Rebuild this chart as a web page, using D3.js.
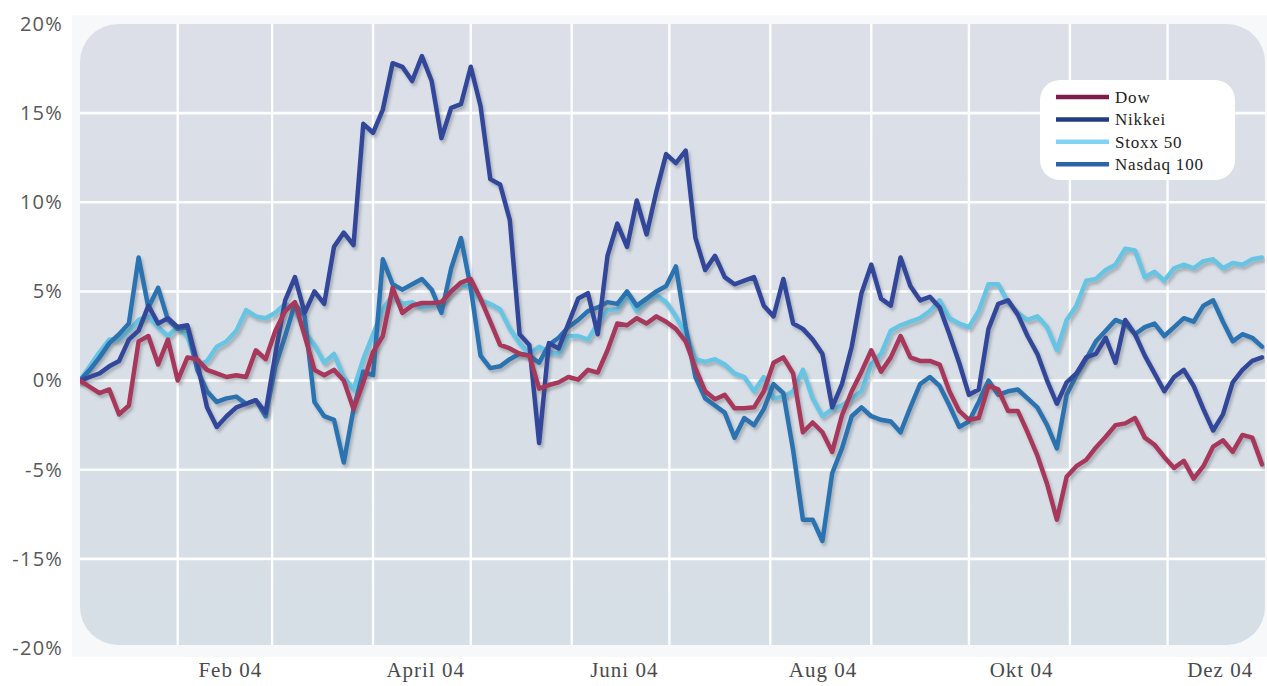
<!DOCTYPE html>
<html>
<head>
<meta charset="utf-8">
<script src="https://cdn.jsdelivr.net/npm/d3@7"></script>
<style>
  html, body { margin: 0; padding: 0; background: #ffffff; }
  svg { display: block; }
</style>
</head>
<body>
<svg id="chart" width="1267" height="686"></svg>
<script>
// Index performance 2004, percent change since the first trading day.
// One sample every three calendar days, starting 2 Jan 2004.
const startDate = "2004-01-02";
const stepDays = 3;

const dow = [0,-0.35,-0.7,-0.5,-1.9,-1.4,2.2,2.5,0.9,2.3, 0.0,1.3,1.2,0.6,0.4,0.2,0.3,0.2,1.7,1.2,
  2.8,3.9,4.4,2.5,0.6,0.3,0.6,0,-1.6,-0.1, 1.6,2.5,5.2,3.8,4.2,4.35,4.35,4.4,5.0,5.5,
  5.7,4.6,3.3,2.0,1.8,1.5,1.4,-0.45,-0.25,-0.1, 0.2,0.05,0.6,0.45,1.7,3.2,3.1,3.5,3.2,3.6,
  3.3,2.9,2.2,0.7,-0.6,-1.05,-0.8,-1.55,-1.55,-1.5, -0.6,1.0,1.3,0.4,-2.9,-2.35,-2.9,-4.0,-1.95,-0.6,
  0.5,1.7,0.5,1.3,2.5,1.3,1.1,1.1,0.9,-0.6, -1.7,-2.2,-2.1,-0.3,-0.5,-1.7,-1.7,-2.9,-4.2,-5.8,
  -7.8,-5.4,-4.8,-4.45,-3.75,-3.15,-2.5,-2.4,-2.1,-3.2, -3.6,-4.3,-4.9,-4.5,-5.5,-4.8,-3.7,-3.35,-4.0,-3.05,
  -3.2,-4.7];

const nikkei = [0,0.2,0.4,0.8,1.1,2.3,2.8,4.2,3.2,3.5, 3.0,3.1,1.0,-1.5,-2.6,-2.0,-1.5,-1.3,-1.1,-1.8,
  1.5,4.5,5.8,3.8,5.0,4.3,7.5,8.3,7.6,14.4, 13.9,15.2,17.8,17.6,16.8,18.2,16.8,13.6,15.3,15.5,
  17.6,15.4,11.3,11.0,9.0,2.6,2.0,-3.5,2.1,1.8, 3.2,4.6,4.9,2.6,7.0,8.8,7.5,10.1,8.2,10.6,
  12.7,12.2,12.9,8.0,6.2,7.0,5.8,5.4,5.6,5.8, 4.2,3.6,5.7,3.2,2.9,2.3,1.5,-1.5,-0.2,1.9,
  4.9,6.5,4.6,4.2,6.9,5.3,4.5,4.7,4.1,2.6, 1.0,-0.8,-0.5,2.9,4.3,4.5,3.7,2.5,1.5,0,
  -1.3,-0.1,0.4,1.3,1.5,2.4,1.0,3.4,2.6,1.4, 0.4,-0.6,0.2,0.6,-0.3,-1.6,-2.8,-1.9,-0.1,0.6,
  1.1,1.3];

const stoxx = [0,0.8,1.6,2.3,2.3,2.8,3.4,3.6,3.0,2.5, 3.0,2.5,0.8,1.1,1.9,2.2,2.8,3.95,3.6,3.5,
  3.8,4.3,4.0,2.7,2.0,1.0,1.5,0.2,-0.5,1.2, 2.6,4.0,4.8,4.3,4.4,4.1,4.2,4.4,5.0,5.4,
  5.2,4.5,4.3,4.0,2.9,2.1,1.5,1.9,1.6,1.5, 2.5,2.5,2.3,3.2,3.95,4.0,4.8,3.9,4.5,4.8,
  4.4,3.6,2.6,1.2,1.05,1.2,0.9,0.4,0.2,-0.6, 0.2,-1.0,-0.9,-0.6,0.6,-1.0,-2.0,-1.6,-1.4,-1.0,
  -0.6,0.9,1.5,2.8,3.1,3.3,3.5,3.9,4.5,3.5, 3.2,3.0,3.9,5.4,5.4,4.4,3.8,3.4,3.6,3.0,
  1.7,3.4,4.2,5.6,5.7,6.2,6.5,7.4,7.3,5.8, 6.1,5.6,6.3,6.5,6.3,6.7,6.8,6.3,6.6,6.5,
  6.8,6.9];

const nasdaq = [0,0.6,1.3,2.1,2.6,3.2,6.9,4.1,5.2,3.4, 2.9,3.0,0.6,-0.6,-1.2,-1.0,-0.9,-1.3,-1.1,-2.0,
  0.8,2.5,4.3,3.6,-1.2,-2.0,-2.2,-4.6,-1.6,0.5, 0.3,6.8,5.4,5.1,5.4,5.7,5.1,3.8,6.3,8.0,
  5.2,1.4,0.7,0.8,1.2,1.5,1.4,1.0,2.0,2.4, 3.0,3.4,3.9,4.1,4.4,4.3,5.0,4.2,4.6,5.0,
  5.3,6.4,3.0,0.2,-1.0,-1.4,-1.8,-3.2,-2.1,-2.5, -1.6,-0.2,-0.7,-3.9,-7.8,-7.8,-9.0,-5.2,-3.8,-2.0,
  -1.5,-2.0,-2.2,-2.3,-2.9,-1.5,-0.2,0.2,-0.3,-1.4, -2.6,-2.3,-1.2,0.0,-0.8,-0.6,-0.5,-1.0,-1.5,-2.5,
  -3.8,-0.8,0.3,1.2,2.2,2.8,3.4,3.2,2.6,3.0, 3.2,2.5,3.0,3.5,3.3,4.2,4.5,3.3,2.2,2.6,
  2.4,1.9];

const seriesNames = ["Dow", "Nikkei", "Stoxx 50", "Nasdaq 100"];
const lineColors = ["#a7375b", "#33479a", "#68c4e3", "#2a73b0"];
const keyColors  = ["#7c1d4c", "#253b80", "#80d3f2", "#2b65a7"];

const yTicks = [20, 15, 10, 5, 0, -5, -10, -15];
const yTickLabels = ["20%", "15%", "10%", "5%", "0%", "-5%", "-15%", "-20%"];
const xLabelDates = ["2004-02-17", "2004-04-17", "2004-06-17", "2004-08-17", "2004-10-17", "2004-12-17"];
const xLabels = ["Feb 04", "April 04", "Juni 04", "Aug 04", "Okt 04", "Dez 04"];

// ---- layout ----
const W = 1267, H = 686;
const plot = { left: 80, right: 1265, top: 24, bottom: 645, r: 38 };

const parse = d3.timeParse("%Y-%m-%d");
const t0 = parse(startDate);
const dates = dow.map((_, i) => d3.timeDay.offset(t0, i * stepDays));

const x = d3.scaleTime()
  .domain([dates[0], dates[dates.length - 1]])
  .range([80, 1262]);
const y = d3.scaleLinear().domain([-15, 20]).range([648, 24]);

const svg = d3.select("#chart");
const defs = svg.append("defs");

const grad = defs.append("linearGradient").attr("id", "bg").attr("x1", 0).attr("y1", 0).attr("x2", 0).attr("y2", 1);
grad.append("stop").attr("offset", "0%").attr("stop-color", "#dcdfe7");
grad.append("stop").attr("offset", "100%").attr("stop-color", "#d6dee6");

defs.append("clipPath").attr("id", "plotClip")
  .append("rect")
  .attr("x", plot.left).attr("y", plot.top)
  .attr("width", plot.right - plot.left).attr("height", plot.bottom - plot.top)
  .attr("rx", plot.r).attr("ry", plot.r);

const shadow = defs.append("filter").attr("id", "lineShadow")
  .attr("x", "-5%").attr("y", "-5%").attr("width", "110%").attr("height", "115%");
shadow.append("feDropShadow")
  .attr("dx", 2).attr("dy", 3).attr("stdDeviation", 1.8)
  .attr("flood-color", "#4a5260").attr("flood-opacity", 0.35);

// faint backing panel behind the plot
svg.append("rect")
  .attr("x", 72).attr("y", 15).attr("width", W - 72).attr("height", 642)
  .attr("fill", "#f7f8fa");

// plot background
svg.append("rect")
  .attr("x", plot.left).attr("y", plot.top)
  .attr("width", plot.right - plot.left).attr("height", plot.bottom - plot.top)
  .attr("rx", plot.r).attr("ry", plot.r)
  .attr("fill", "url(#bg)");

// grid
const grid = svg.append("g").attr("clip-path", "url(#plotClip)");
grid.selectAll("line.h")
  .data(yTicks.filter(v => v < 20 && v > -15))
  .join("line")
  .attr("class", "h")
  .attr("x1", plot.left).attr("x2", plot.right)
  .attr("y1", d => y(d)).attr("y2", d => y(d))
  .attr("stroke", "#ffffff").attr("stroke-width", 2.6).attr("stroke-opacity", 0.95);

const monthStarts = d3.timeMonth.range(d3.timeMonth.ceil(dates[0]), d3.timeMonth.offset(dates[dates.length - 1], 1));
grid.selectAll("line.v")
  .data(monthStarts)
  .join("line")
  .attr("class", "v")
  .attr("x1", d => x(d)).attr("x2", d => x(d))
  .attr("y1", plot.top).attr("y2", plot.bottom)
  .attr("stroke", "#ffffff").attr("stroke-width", 2.4).attr("stroke-opacity", 0.95);

// series lines
const seriesValues = [dow, nikkei, stoxx, nasdaq];
const drawOrder = [2, 3, 1, 0];
const line = d3.line()
  .x((d, i) => x(dates[i]))
  .y(d => y(d))
  .curve(d3.curveLinear);

const lines = svg.append("g").attr("clip-path", "url(#plotClip)");
drawOrder.forEach(k => {
  lines.append("path")
    .datum(seriesValues[k])
    .attr("d", line)
    .attr("fill", "none")
    .attr("stroke", lineColors[k])
    .attr("stroke-width", 4.5)
    .attr("stroke-linejoin", "round")
    .attr("stroke-linecap", "round")
    .attr("filter", "url(#lineShadow)");
});

// y axis labels
const yAxis = d3.axisLeft(y)
  .tickValues(yTicks)
  .tickFormat((d, i) => yTickLabels[i])
  .tickSize(0)
  .tickPadding(0);
const yG = svg.append("g").attr("transform", "translate(63,0)").call(yAxis);
yG.select(".domain").remove();
yG.selectAll("text")
  .attr("font-family", "'Open Sans', 'Noto Sans', sans-serif")
  .attr("font-size", 20)
  .attr("letter-spacing", "1.2px")
  .attr("fill", "#585858");

// x axis labels
const xAxis = d3.axisBottom(x)
  .tickValues(xLabelDates.map(parse))
  .tickFormat((d, i) => xLabels[i])
  .tickSize(0)
  .tickPadding(0);
const xG = svg.append("g").attr("transform", "translate(0,662)").call(xAxis);
xG.select(".domain").remove();
xG.selectAll("text")
  .attr("font-family", "'Liberation Serif', 'DejaVu Serif', serif")
  .attr("font-size", 21)
  .attr("letter-spacing", "1px")
  .attr("fill", "#4a4a4a");

// legend
const legend = svg.append("g").attr("transform", "translate(1040,80)");
legend.append("rect")
  .attr("width", 195).attr("height", 100)
  .attr("rx", 20).attr("ry", 20)
  .attr("fill", "#ffffff");
const rows = legend.selectAll("g.row")
  .data(seriesNames)
  .join("g")
  .attr("class", "row")
  .attr("transform", (d, i) => `translate(0,${17 + i * 22.4})`);
rows.append("line")
  .attr("x1", 16).attr("x2", 69)
  .attr("stroke", (d, i) => keyColors[i])
  .attr("stroke-width", 4.5);
rows.append("text")
  .attr("x", 75).attr("dy", "0.35em")
  .attr("font-family", "'Liberation Serif', 'DejaVu Serif', serif")
  .attr("font-size", 17)
  .attr("letter-spacing", "0.8px")
  .attr("fill", "#222222")
  .text(d => d);
</script>
</body>
</html>
